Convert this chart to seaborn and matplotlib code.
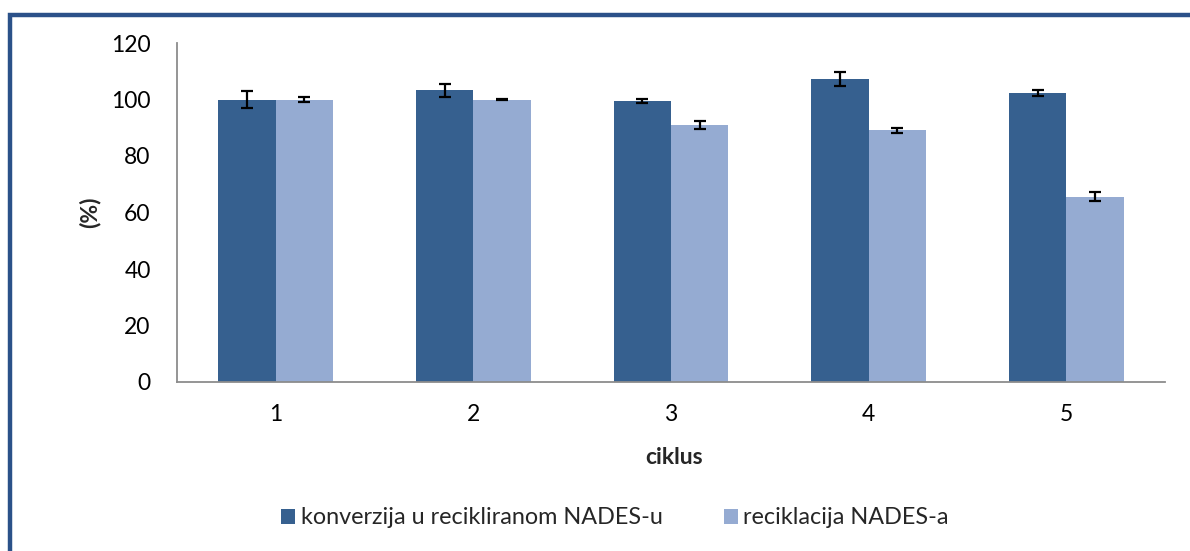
import matplotlib
matplotlib.use("Agg")
import matplotlib.pyplot as plt
from matplotlib.patches import Rectangle
import seaborn as sns
import pandas as pd
import numpy as np

cycles = ["1", "2", "3", "4", "5"]
series_names = ["konverzija u recikliranom NADES-u", "reciklacija NADES-a"]
conversion = [100.0, 103.3, 99.5, 107.2, 102.4]
conversion_err = [3.0, 2.3, 0.7, 2.5, 1.0]
recycling = [100.0, 100.0, 91.0, 89.1, 65.5]
recycling_err = [1.0, 0.2, 1.5, 0.9, 1.6]
y_ticks = [0, 20, 40, 60, 80, 100, 120]

colors = ["#36608F", "#95ABD2"]

sns.set_theme(style="white")
plt.rcParams["font.family"] = ["Lato", "DejaVu Sans"]

df = pd.DataFrame({
    "ciklus": cycles * 2,
    "value": conversion + recycling,
    "serija": [series_names[0]] * 5 + [series_names[1]] * 5,
})

fig = plt.figure(figsize=(11.9, 5.51), dpi=100)
ax = fig.add_axes([177 / 1190, 1 - 382 / 551, (1165 - 177) / 1190, (382 - 43) / 551])

sns.barplot(data=df, x="ciklus", y="value", hue="serija", order=cycles,
            hue_order=series_names, palette=colors, width=0.58, gap=0,
            errorbar=None, saturation=1, ax=ax, linewidth=0)

errs = conversion_err + recycling_err
vals = conversion + recycling
patches = [p for p in ax.patches if p.get_height() > 0][:10]
for p, v, e in zip(patches, vals, errs):
    xc = p.get_x() + p.get_width() / 2
    ax.errorbar(xc, v, yerr=e, fmt="none", ecolor="black", elinewidth=1.6,
                capsize=4.5, capthick=1.6)

ax.set_ylim(0, 120)
ax.set_xlim(-0.5, 4.5)
ax.set_yticks(y_ticks)
ax.set_yticklabels([str(t) for t in y_ticks])
ax.tick_params(axis="both", length=0, labelsize=16.5, colors="black")
ax.tick_params(axis="y", pad=19)
ax.tick_params(axis="x", pad=16)
for s in ["top", "right"]:
    ax.spines[s].set_visible(False)
for s in ["left", "bottom"]:
    ax.spines[s].set_color("#8C8C8C")
    ax.spines[s].set_linewidth(1.3)

ax.set_xlabel("")
ax.set_ylabel("")
fig.text(674 / 1190, 1 - 458 / 551, "ciklus", ha="center", va="center",
         fontsize=16.5, fontweight="bold")
fig.text(90 / 1190, 1 - 212 / 551, "(%)", ha="center", va="center",
         fontsize=16.5, fontweight="bold", rotation=90)

leg = ax.get_legend()
handles = leg.legend_handles
leg.remove()
fig.legend(handles, series_names, loc="center", ncol=2,
           bbox_to_anchor=(615 / 1190, 1 - 518 / 551), frameon=False,
           fontsize=16.8, handlelength=0.6, handleheight=0.6, handletextpad=0.25,
           columnspacing=2.6)

frame = Rectangle((10 / 1190, -0.2), 1.5, (1 - 15 / 551) + 0.2,
                  transform=fig.transFigure, fill=False,
                  edgecolor="#2B5189", linewidth=3.2, clip_on=False)
fig.patches.append(frame)

fig.savefig("out.png", dpi=100)
